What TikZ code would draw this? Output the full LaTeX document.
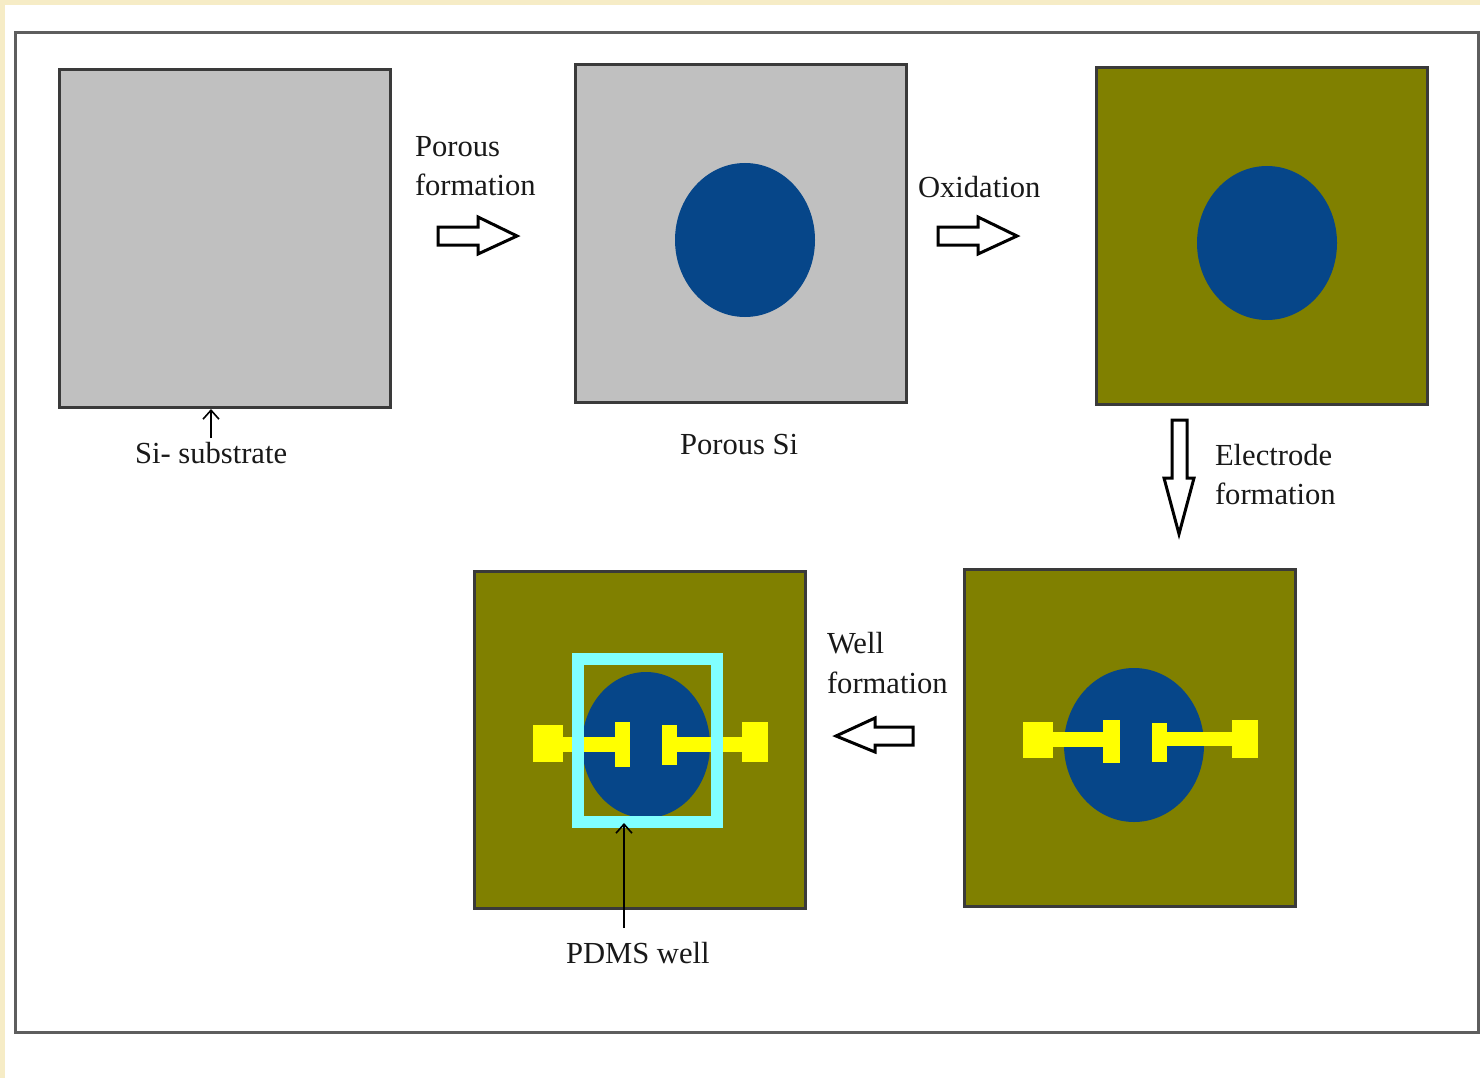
\documentclass[tikz,border=0pt]{standalone}
\usepackage{fontspec}
\setmainfont{Liberation Serif}
\definecolor{cream}{HTML}{F6ECC6}
\definecolor{framegray}{HTML}{5E5E5E}
\definecolor{boxedge}{HTML}{3A3A3A}
\definecolor{sigray}{HTML}{C0C0C0}
\definecolor{olivec}{HTML}{808000}
\definecolor{porblue}{HTML}{064689}
\definecolor{yelc}{HTML}{FFFF00}
\definecolor{cyanc}{HTML}{80FFFF}
\tikzset{
  waferbox/.style={draw=boxedge, line width=3pt, minimum width=331pt, minimum height=337pt, inner sep=0pt, outer sep=0pt},
  lbl/.style={inner sep=0pt, outer sep=0pt, anchor=base west, font=\fontsize{30.6}{36}\selectfont, text=black!90},
  hollow/.style={draw=black, line width=3pt, fill=white, line join=miter},
  thin arrow/.style={draw=black, line width=1.6pt, -{Straight Barb[length=9pt,width=16pt,line width=1.6pt]}},
  electrode/.style={fill=yelc},
}
\usetikzlibrary{arrows.meta}
\begin{document}
\begin{tikzpicture}[x=1pt,y=-1pt]
\useasboundingbox (0,0) rectangle (1480,1078);
% background
\fill[cream] (0,0) rectangle (1480,1078);
\fill[white] (5,5) rectangle (1480,1078);
\draw[framegray, line width=3pt] (15,33) rectangle (1478,1032);

% wafers
\node[waferbox, fill=sigray] (b1) at (225,238.5) {};
\node[waferbox, fill=sigray] (b2) at (741,233.5) {};
\node[waferbox, fill=olivec] (b3) at (1261.5,236) {};
\node[waferbox, fill=olivec] (b4) at (1129.5,738) {};
\node[waferbox, fill=olivec] (b5) at (639.5,740) {};

% porous regions
\fill[porblue] (745,240) ellipse [x radius=70, y radius=77];
\fill[porblue] (1267,243) ellipse [x radius=70, y radius=77];
\fill[porblue] (1134,745) ellipse [x radius=70, y radius=77];
\fill[porblue] (646,745) ellipse [x radius=64, y radius=73];

% electrodes, bottom right
\fill[electrode] (1023,722) rectangle (1053,758);
\fill[electrode] (1052,732) rectangle (1104,747);
\fill[electrode] (1103,720) rectangle (1120,763);
\fill[electrode] (1152,723) rectangle (1167,762);
\fill[electrode] (1166,732) rectangle (1233,746);
\fill[electrode] (1232,720) rectangle (1258,758);

% electrodes, bottom middle
\fill[electrode] (533,725) rectangle (563,762);
\fill[electrode] (562,737) rectangle (616,752);
\fill[electrode] (615,722) rectangle (630,767);
\fill[electrode] (662,725) rectangle (677,765);
\fill[electrode] (676,737) rectangle (743,752);
\fill[electrode] (742,722) rectangle (768,762);

% PDMS well
\draw[cyanc, line width=12pt, line join=miter] (578,659) rectangle (717,822);
\coordinate (wellbottom) at (624,823);

% hollow process arrows
\draw[hollow] (438,227) -- (478,227) -- (478,217) -- (517,236) -- (478,254) -- (478,245) -- (438,245) -- cycle;
\draw[hollow] (938,227) -- (978,227) -- (978,217) -- (1017,236) -- (978,254) -- (978,245) -- (938,245) -- cycle;
\draw[hollow] (1172,420) -- (1187,420) -- (1187,478) -- (1194,478) -- (1179,534) -- (1164,478) -- (1172,478) -- cycle;
\draw[hollow] (913,727) -- (875,727) -- (875,718) -- (836,736) -- (875,752) -- (875,745) -- (913,745) -- cycle;

% labels
\node[lbl] (porf) at (415,157) {Porous};
\node[lbl] (porf2) at (415,196) {formation};
\node[lbl] (oxid) at (918,197) {Oxidation};
\node[lbl] (sisub) at (135,463) {Si- substrate};
\node[lbl] (porsi) at (680,454) {Porous Si};
\node[lbl] (elec) at (1215,465) {Electrode};
\node[lbl] (elec2) at (1215,504) {formation};
\node[lbl] (well) at (827,653) {Well};
\node[lbl] (well2) at (827,693) {formation};
\node[lbl] (pdms) at (566,963) {PDMS well};

% pointer arrows
\coordinate (sitop) at (211,438);
\coordinate (b1pt) at (211,409);
\draw[thin arrow] (sitop) -- (b1pt);
\coordinate (pdmstop) at (624,928);
\draw[thin arrow] (pdmstop) -- (wellbottom);
\end{tikzpicture}
\end{document}
